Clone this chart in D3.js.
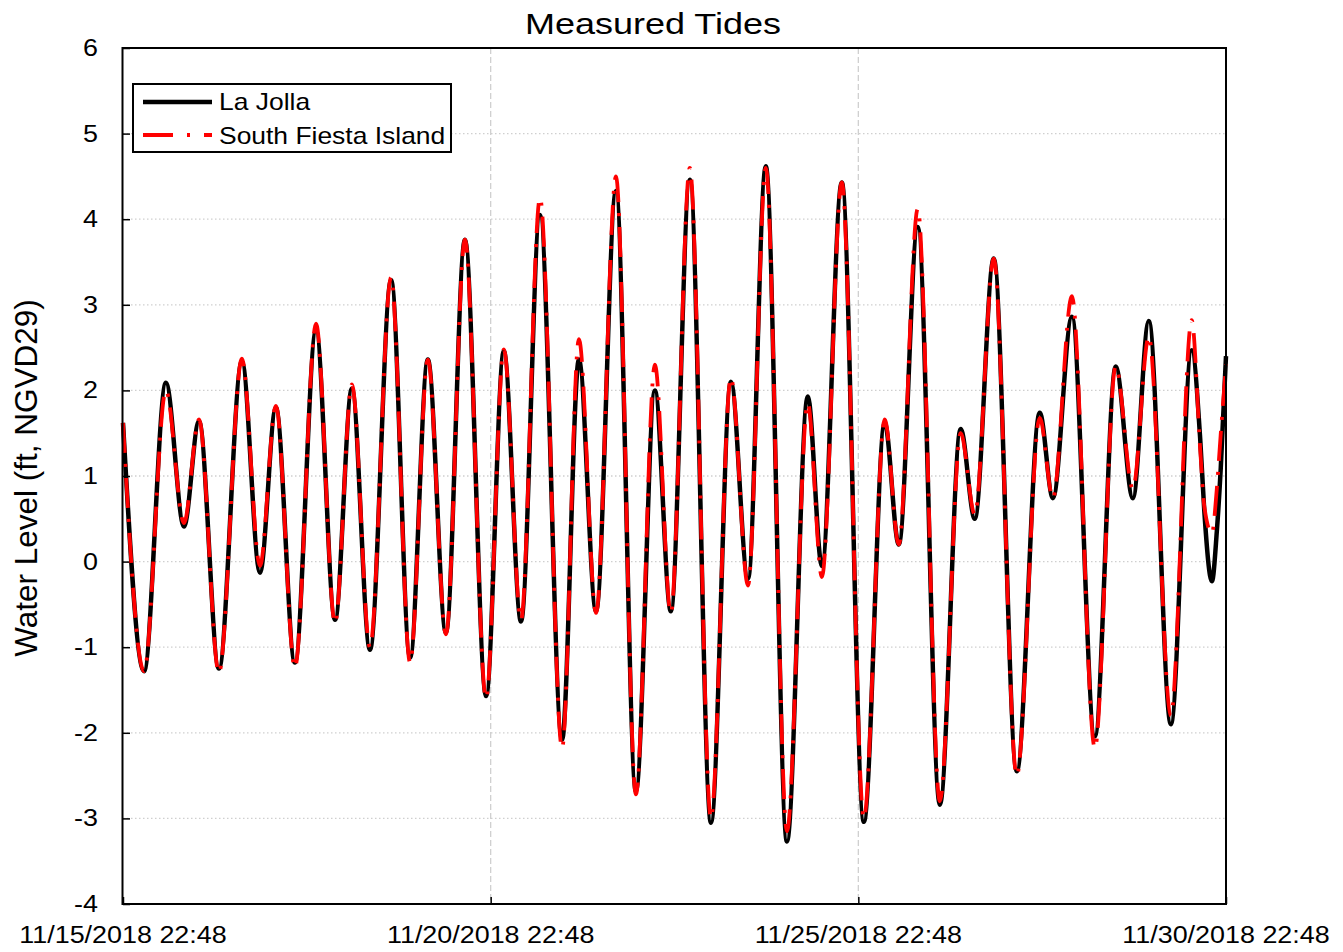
<!DOCTYPE html>
<html>
<head>
<meta charset="utf-8">
<script src="https://cdnjs.cloudflare.com/ajax/libs/d3/7.8.5/d3.min.js"></script>
<style>
	body{margin:0;background:#fff;}
	text{font-family:"Liberation Sans",Arial,sans-serif;fill:#000;}
</style>
</head>
<body>
<svg class="tideChart" width="1343" height="952"></svg>
<script>

// hours after 11/15/2018 22:48, at each high / low
var hours = [0,6.85,14.0,19.9,24.8,31.3,38.8,44.7,49.9,56.1,63.0,69.2,74.7,80.6,87.5,93.7,99.5,105.4,
	111.6,118.5,124.3,129.9,136.1,143.3,148.8,154.4,160.9,167.4,173.6,178.8,185.0,191.9,198.4,204.0,
	209.8,216.7,223.5,228.1,234.6,241.8,248.6,253.2,259.4,266.6,273.4,278.0,284.2,291.7,299.2,303.5,
	309.7,317.2,324.0,329.6,334.8,342.0,348.8,351.6,352.9,355.4,357.0,358.3,360];

var laJolla = [1.62,-1.28,2.09,0.41,1.64,-1.25,2.34,-0.13,1.80,-1.18,2.70,-0.68,2.02,-1.03,3.29,-1.12,2.36,-0.83,
	3.76,-1.57,2.46,-0.70,4.05,-2.08,2.36,-0.58,4.33,-2.68,2.0,-0.58,4.46,-3.05,2.10,-0.20,
	4.62,-3.27,1.93,-0.05,4.43,-3.04,1.62,0.20,3.91,-2.84,1.55,0.50,3.54,-2.45,1.74,0.74,
	2.86,-2.04,2.28,0.74,2.81,-1.90,2.47,1.42,0.60,-0.23,0.35,1.10,2.40];

var fiesta = [1.62,-1.28,2.0,0.45,1.66,-1.30,2.37,-0.05,1.82,-1.24,2.78,-0.72,2.07,-1.0,3.32,-1.18,2.36,-0.85,
	3.76,-1.60,2.48,-0.68,4.25,-2.18,2.60,-0.60,4.50,-2.72,2.30,-0.60,4.60,-3.0,2.15,-0.28,
	4.60,-3.15,1.85,-0.18,4.43,-3.0,1.66,0.20,4.12,-2.80,1.50,0.55,3.54,-2.50,1.68,0.74,
	3.10,-2.18,2.28,0.85,2.63,-1.80,2.82,1.30,0.65,0.33,0.85,1.50,2.30];

var seriesNames = ['La Jolla','South Fiesta Island'];
var yTicks = [-4,-3,-2,-1,0,1,2,3,4,5,6];
var xTickDays = [0,5,10,15];
var xTickLabels = ['11/15/2018 22:48','11/20/2018 22:48','11/25/2018 22:48','11/30/2018 22:48'];

var config = {
	left:123, right:1226, top:48, bottom:904,
	stretch:1.17,
	redDash:'30,11,3,11'
};

var start = new Date(2018,10,15,22,48);
var toDate = (h) => new Date(start.getTime()+h*3600*1000);

var xScale = d3.scaleTime()
		.domain([start,toDate(15*24)])
		.range([config.left,config.right]);

var yScale = d3.scaleLinear()
		.domain([-4,6])
		.range([config.bottom,config.top]);

var svg = d3.select('.tideChart');

// grid
svg.append('g')
	.selectAll('line')
	.data(yTicks.slice(1,-1))
	.enter()
	.append('line')
	.attr('x1',config.left).attr('x2',config.right)
	.attr('y1',d=>yScale(d)).attr('y2',d=>yScale(d))
	.attr('stroke','#cfcfcf')
	.attr('stroke-width',1.3)
	.attr('stroke-dasharray','1.5,2.5');

svg.append('g')
	.selectAll('line')
	.data(xTickDays.slice(1,-1))
	.enter()
	.append('line')
	.attr('x1',d=>xScale(toDate(d*24))).attr('x2',d=>xScale(toDate(d*24)))
	.attr('y1',config.top).attr('y2',config.bottom)
	.attr('stroke','#d0d0d0')
	.attr('stroke-width',1.3)
	.attr('stroke-dasharray','6,3');

// axes, ticks pointing inward
var yAxisGen = d3.axisRight(yScale).tickValues(yTicks).tickSize(7).tickFormat('');
svg.append('g')
	.attr('transform','translate('+config.left+',0)')
	.call(yAxisGen)
	.call(g=>g.select('.domain').remove())
	.selectAll('line').attr('stroke','#000').attr('stroke-width',1.5);

var xAxisGen = d3.axisTop(xScale).tickValues(xTickDays.map(d=>toDate(d*24))).tickSize(7).tickFormat('');
svg.append('g')
	.attr('transform','translate(0,'+config.bottom+')')
	.call(xAxisGen)
	.call(g=>g.select('.domain').remove())
	.selectAll('line').attr('stroke','#000').attr('stroke-width',1.5);

// lines
var lineGen = d3.line()
		.x((d,i)=>xScale(toDate(hours[i])))
		.y(d=>yScale(d))
		.curve(d3.curveMonotoneX);

svg.append('path')
	.attr('d',lineGen(laJolla))
	.attr('fill','none')
	.attr('stroke','#000')
	.attr('stroke-width',4.5)
	.attr('stroke-linejoin','round');

svg.append('path')
	.attr('d',lineGen(fiesta))
	.attr('fill','none')
	.attr('stroke','#ff0000')
	.attr('stroke-width',3.8)
	.attr('stroke-dasharray',config.redDash);

// frame
svg.append('rect')
	.attr('x',config.left-0.5).attr('y',config.top)
	.attr('width',config.right-config.left+0.5).attr('height',config.bottom-config.top)
	.attr('fill','none')
	.attr('stroke','#000')
	.attr('stroke-width',2);

// tick labels
svg.append('g')
	.selectAll('text')
	.data(yTicks)
	.enter()
	.append('text')
	.attr('transform',d=>'translate(98,'+(yScale(d)+8)+') scale('+config.stretch+',1)')
	.attr('text-anchor','end')
	.attr('font-size',23)
	.text(d=>d);

svg.append('g')
	.selectAll('text')
	.data(xTickDays)
	.enter()
	.append('text')
	.attr('transform',d=>'translate('+xScale(toDate(d*24))+',943) scale('+config.stretch+',1)')
	.attr('text-anchor','middle')
	.attr('font-size',23)
	.text((d,i)=>xTickLabels[i]);

// title + y label
svg.append('text')
	.attr('transform','translate(653,34) scale(1.2,1)')
	.attr('text-anchor','middle')
	.attr('font-size',30)
	.text('Measured Tides');

svg.append('text')
	.attr('transform','translate(37,478) rotate(-90)')
	.attr('text-anchor','middle')
	.attr('font-size',31.5)
	.text('Water Level (ft, NGVD29)');

// legend
var legend = svg.append('g').attr('transform','translate(133,84)');

legend.append('rect')
	.attr('width',318).attr('height',68)
	.attr('fill','#fff')
	.attr('stroke','#000')
	.attr('stroke-width',2);

legend.append('line')
	.attr('x1',10).attr('x2',79).attr('y1',18).attr('y2',18)
	.attr('stroke','#000').attr('stroke-width',4.5);

legend.append('line')
	.attr('x1',10).attr('x2',79).attr('y1',51).attr('y2',51)
	.attr('stroke','#ff0000').attr('stroke-width',3.8)
	.attr('stroke-dasharray','30,14,3,14');

legend.selectAll('text.lbl')
	.data(seriesNames)
	.enter()
	.append('text')
	.attr('class','lbl')
	.attr('transform',(d,i)=>'translate(86,'+(26+i*34)+') scale(1.15,1)')
	.attr('font-size',23)
	.text(d=>d);

</script>
</body>
</html>
